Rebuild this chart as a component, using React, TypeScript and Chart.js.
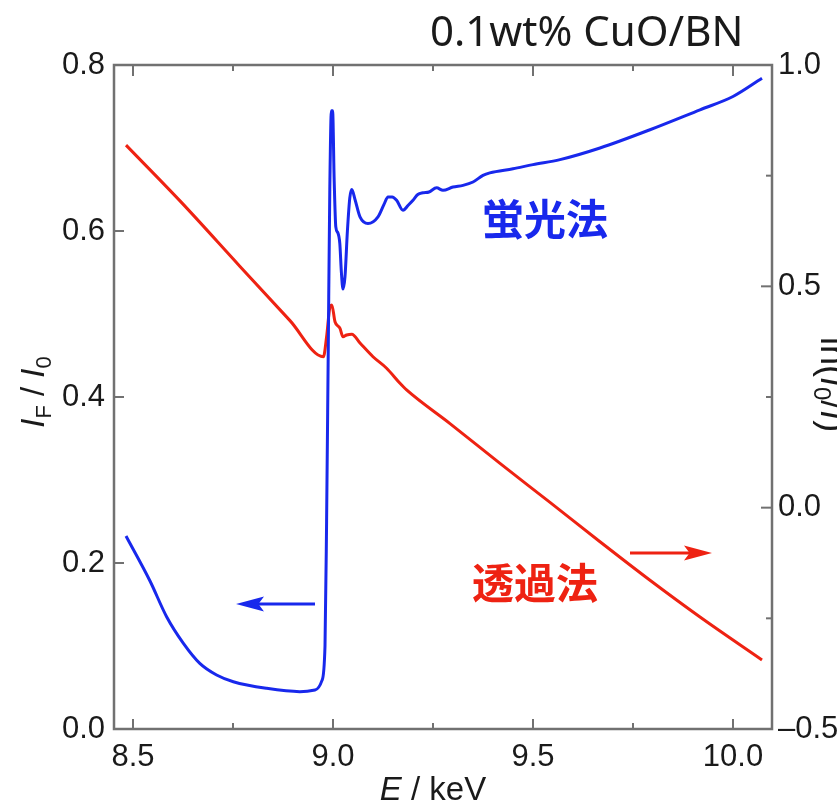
import React, { useEffect, useRef } from 'react';
import { Chart, registerables } from 'chart.js';

Chart.register(...registerables);

// ---- data ----
const fluorEnergy = [
  8.4825, 8.5425, 8.584, 8.626, 8.667, 8.709, 8.7508, 8.834, 8.917, 8.955, 8.972,
  8.98, 8.984, 8.988, 8.992, 8.996, 8.999, 9.003, 9.007, 9.012, 9.017, 9.021,
  9.025, 9.03, 9.036, 9.042, 9.047, 9.055, 9.0675, 9.0875, 9.1125, 9.1275, 9.1375,
  9.148, 9.159, 9.175, 9.188, 9.2, 9.212, 9.225, 9.24, 9.259, 9.275, 9.3, 9.325,
  9.35, 9.375, 9.392, 9.45, 9.5, 9.5675, 9.6675, 9.7925, 9.9175, 10.0, 10.0725,
];
const fluorValues = [
  0.2325, 0.1783, 0.1353, 0.1032, 0.0791, 0.0651, 0.057, 0.049, 0.045, 0.047, 0.058,
  0.1, 0.25, 0.45, 0.65, 0.745, 0.745, 0.66, 0.605, 0.598, 0.585, 0.55,
  0.53, 0.545, 0.6, 0.64, 0.65, 0.638, 0.617, 0.609, 0.617, 0.632, 0.641,
  0.641, 0.637, 0.625, 0.631, 0.637, 0.644, 0.646, 0.647, 0.652, 0.649, 0.653, 0.655,
  0.659, 0.667, 0.67, 0.675, 0.68, 0.686, 0.7, 0.722, 0.746, 0.762, 0.784,
];
const transEnergy = [
  8.4825, 8.6175, 8.7675, 8.8925, 8.976, 8.984, 8.9925, 8.997, 9.005, 9.0175, 9.025,
  9.034, 9.047, 9.0675, 9.1, 9.134, 9.1675, 9.184, 9.2925, 9.4175, 9.5425, 9.6675,
  9.7925, 9.9175, 10.0725,
];
const transValues = [
  0.819, 0.693, 0.545, 0.4225, 0.341, 0.386, 0.454, 0.458, 0.42, 0.405, 0.386,
  0.39, 0.392, 0.372, 0.341, 0.315, 0.281, 0.266, 0.19, 0.1, 0.012, -0.077,
  -0.164, -0.247, -0.344,
];

const xMajorTicks = [8.5, 9.0, 9.5, 10.0];
const xMinorTicks = [8.75, 9.25, 9.75];
const leftTicks = [0, 0.2, 0.4, 0.6, 0.8];
const rightMajorTicks = [-0.5, 0, 0.5, 1.0];
const rightMinorTicks = [-0.25, 0.25, 0.75];

const titleText = '0.1wt% CuO/BN';
const fluorLabel = '蛍光法';
const transLabel = '透過法';

// ---- styles ----
const BLUE = 'rgb(24, 40, 236)';
const RED = 'rgb(238, 34, 18)';
const AXIS = '#717171';
const TEXT = '#1a1a1a';
const SANS = '"Liberation Sans", Arial, sans-serif';
const CJK = '"Noto Sans CJK JP", "Noto Sans CJK SC", sans-serif';

function drawArrow(ctx: CanvasRenderingContext2D, x1: number, x2: number, y: number, color: string) {
  const dir = Math.sign(x2 - x1);
  const headLen = 28;
  const half = 7.5;
  ctx.strokeStyle = color;
  ctx.fillStyle = color;
  ctx.lineWidth = 3;
  ctx.beginPath();
  ctx.moveTo(x1, y);
  ctx.lineTo(x2 - dir * headLen * 0.7, y);
  ctx.stroke();
  ctx.beginPath();
  ctx.moveTo(x2, y);
  ctx.lineTo(x2 - dir * headLen, y - half);
  ctx.lineTo(x2 - dir * headLen * 0.8, y);
  ctx.lineTo(x2 - dir * headLen, y + half);
  ctx.closePath();
  ctx.fill();
}

type Piece = { t: string; font: string; dy: number };

function drawPieces(ctx: CanvasRenderingContext2D, pieces: Piece[], startX: number) {
  let x = startX;
  for (const p of pieces) {
    ctx.font = p.font;
    ctx.fillText(p.t, x, p.dy);
    x += ctx.measureText(p.t).width;
  }
}
function measurePieces(ctx: CanvasRenderingContext2D, pieces: Piece[]) {
  let w = 0;
  for (const p of pieces) {
    ctx.font = p.font;
    w += ctx.measureText(p.t).width;
  }
  return w;
}

const decorPlugin = {
  id: 'decor',
  afterDraw(chart: any) {
    const ctx: CanvasRenderingContext2D = chart.ctx;
    const { left, right, top, bottom } = chart.chartArea;
    const xs = chart.scales.x;
    const yl = chart.scales.y;
    const yr = chart.scales.y2;
    ctx.save();

    ctx.strokeStyle = AXIS;
    ctx.lineWidth = 2.5;
    ctx.strokeRect(left, top, right - left, bottom - top);

    const seg = (x1: number, y1: number, x2: number, y2: number) => {
      ctx.beginPath();
      ctx.moveTo(x1, y1);
      ctx.lineTo(x2, y2);
      ctx.stroke();
    };
    ctx.lineWidth = 2;
    xMajorTicks.forEach((v) => {
      const p = xs.getPixelForValue(v);
      seg(p, bottom, p, bottom - 10);
      seg(p, top, p, top + 11);
    });
    xMinorTicks.forEach((v) => {
      const p = xs.getPixelForValue(v);
      seg(p, bottom, p, bottom - 6);
      seg(p, top, p, top + 6);
    });
    leftTicks.forEach((v) => {
      const p = yl.getPixelForValue(v);
      seg(left, p, left + 10, p);
    });
    rightMajorTicks.forEach((v) => {
      const p = yr.getPixelForValue(v);
      seg(right, p, right - 11, p);
    });
    rightMinorTicks.forEach((v) => {
      const p = yr.getPixelForValue(v);
      seg(right, p, right - 6, p);
    });

    // title
    ctx.fillStyle = TEXT;
    ctx.textBaseline = 'alphabetic';
    ctx.textAlign = 'left';
    ctx.font = `42px "Noto Sans", ${SANS}`;
    ctx.fillText(titleText, 430, 46, 315);

    // x axis title
    const xPieces: Piece[] = [
      { t: 'E', font: `italic 33px ${SANS}`, dy: 0 },
      { t: ' / keV', font: `33px ${SANS}`, dy: 0 },
    ];
    ctx.save();
    ctx.translate(0, 800);
    const xw = measurePieces(ctx, xPieces);
    drawPieces(ctx, xPieces, 433 - xw / 2);
    ctx.restore();

    // left axis title: I_F / I_0
    const lPieces: Piece[] = [
      { t: 'I', font: `italic 33px ${SANS}`, dy: 0 },
      { t: 'F', font: `22px ${SANS}`, dy: 7 },
      { t: ' / ', font: `33px ${SANS}`, dy: 0 },
      { t: 'I', font: `italic 33px ${SANS}`, dy: 0 },
      { t: '0', font: `22px ${SANS}`, dy: 7 },
    ];
    ctx.save();
    ctx.translate(44, 392);
    ctx.rotate(-Math.PI / 2);
    const lw = measurePieces(ctx, lPieces);
    drawPieces(ctx, lPieces, -lw / 2);
    ctx.restore();

    // right axis title: ln(I0/I), mostly clipped by the canvas edge
    const rPieces: Piece[] = [
      { t: 'ln(', font: `36px ${SANS}`, dy: 0 },
      { t: 'I', font: `italic 36px ${SANS}`, dy: 0 },
      { t: '0', font: `24px ${SANS}`, dy: 7 },
      { t: '/', font: `36px ${SANS}`, dy: 0 },
      { t: 'I', font: `italic 36px ${SANS}`, dy: 0 },
      { t: ')', font: `36px ${SANS}`, dy: 0 },
    ];
    ctx.save();
    ctx.translate(821, 337);
    ctx.rotate(Math.PI / 2);
    drawPieces(ctx, rPieces, 0);
    ctx.restore();

    // in-plot labels
    ctx.textBaseline = 'middle';
    ctx.font = `bold 42px ${CJK}`;
    ctx.fillStyle = BLUE;
    ctx.fillText(fluorLabel, 482, 219, 134);
    ctx.fillStyle = RED;
    ctx.fillText(transLabel, 472, 583, 138);

    // arrows
    drawArrow(ctx, 315, 236, 604, BLUE);
    drawArrow(ctx, 630, 712, 553, RED);

    ctx.restore();
  },
};

export default function App() {
  const ref = useRef<HTMLCanvasElement>(null);

  useEffect(() => {
    if (!ref.current) return;
    const chart = new Chart(ref.current, {
      type: 'line',
      data: {
        datasets: [
          {
            label: 'fluorescence',
            data: fluorEnergy.map((x, i) => ({ x, y: fluorValues[i] })),
            borderColor: BLUE,
            borderWidth: 3,
            pointRadius: 0,
            cubicInterpolationMode: 'monotone',
            yAxisID: 'y',
          },
          {
            label: 'transmission',
            data: transEnergy.map((x, i) => ({ x, y: transValues[i] })),
            borderColor: RED,
            borderWidth: 3,
            pointRadius: 0,
            cubicInterpolationMode: 'monotone',
            yAxisID: 'y2',
          },
        ],
      },
      options: {
        responsive: false,
        animation: false,
        layout: { padding: { top: 65, left: 0, right: 0, bottom: 0 } },
        plugins: { legend: { display: false }, tooltip: { enabled: false }, title: { display: false } },
        scales: {
          x: {
            type: 'linear',
            position: 'bottom',
            min: 8.4525,
            max: 10.0975,
            grid: { display: false, drawTicks: false },
            border: { display: false },
            afterBuildTicks: (s: any) => {
              s.ticks = xMajorTicks.map((value) => ({ value }));
            },
            afterFit: (s: any) => {
              s.height = 76;
            },
            ticks: {
              autoSkip: false,
              maxRotation: 0,
              padding: 10,
              color: TEXT,
              font: { family: SANS, size: 31 },
              callback: (v: any) => Number(v).toFixed(1),
            },
          },
          y: {
            type: 'linear',
            position: 'left',
            min: 0,
            max: 0.8,
            grid: { display: false, drawTicks: false },
            border: { display: false },
            afterBuildTicks: (s: any) => {
              s.ticks = leftTicks.map((value) => ({ value }));
            },
            afterFit: (s: any) => {
              s.width = 114;
            },
            ticks: {
              padding: 9,
              color: TEXT,
              font: { family: SANS, size: 31 },
              callback: (v: any) => Number(v).toFixed(1),
            },
          },
          y2: {
            type: 'linear',
            position: 'right',
            min: -0.5,
            max: 1.0,
            grid: { display: false, drawTicks: false },
            border: { display: false },
            afterBuildTicks: (s: any) => {
              s.ticks = rightMajorTicks.map((value) => ({ value }));
            },
            afterFit: (s: any) => {
              s.width = 65;
            },
            ticks: {
              padding: 6,
              color: TEXT,
              font: { family: SANS, size: 31 },
              callback: (v: any) => Number(v).toFixed(1).replace('-', '–'),
            },
          },
        },
      },
      plugins: [decorPlugin],
    } as any);
    return () => chart.destroy();
  }, []);

  return (
    <div style={{ position: 'absolute', left: 0, top: 0, width: 837, height: 805, background: '#fff' }}>
      <canvas ref={ref} width={837} height={805} style={{ display: 'block' }} />
    </div>
  );
}
